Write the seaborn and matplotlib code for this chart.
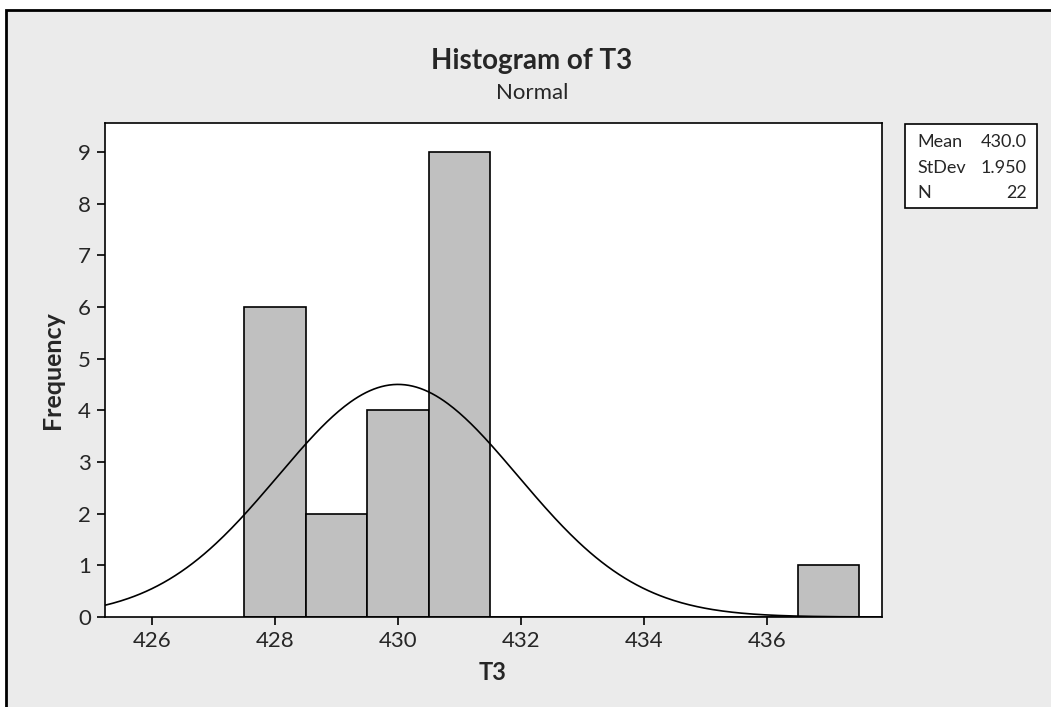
import numpy as np
import pandas as pd
import seaborn as sns
import matplotlib
matplotlib.use("Agg")
import matplotlib.pyplot as plt
from matplotlib.patches import Rectangle

# Data
bin_centers = [428, 429, 430, 431, 432, 433, 434, 435, 436, 437]
counts = [6, 2, 4, 9, 0, 0, 0, 0, 0, 1]
bin_edges = [427.5, 428.5, 429.5, 430.5, 431.5, 432.5, 433.5, 434.5, 435.5, 436.5, 437.5]
x_ticks = [426, 428, 430, 432, 434, 436]
y_ticks = [0, 1, 2, 3, 4, 5, 6, 7, 8, 9]
stat_mean = 430.0
stat_sd = 1.950
stat_n = 22

sns.set_theme(style="white")
plt.rcParams['font.family'] = ['Lato', 'DejaVu Sans']

W, H = 1051, 707
fig = plt.figure(figsize=(W / 100, H / 100), dpi=100)
fig.patch.set_facecolor("white")
# outer panel with border on top and left
fig.add_artist(Rectangle((6 / W, -0.1), 1.2, (H - 10) / H + 0.1, transform=fig.transFigure,
                         facecolor="#EBEBEB", edgecolor="black", linewidth=2, zorder=-10))

ax = fig.add_axes([105 / W, (H - 617) / H, (882 - 105) / W, (617 - 123) / H])
ax.set_facecolor("white")

df = pd.DataFrame({"T3": bin_centers, "count": counts})
sns.histplot(data=df, x="T3", weights="count", bins=bin_edges, ax=ax,
             color="#C0C0C0", edgecolor="black", linewidth=1.2, alpha=1.0)

binw = bin_edges[1] - bin_edges[0]
xs = np.linspace(425.236, 437.87, 400)
ys = stat_n * binw / (stat_sd * np.sqrt(2 * np.pi)) * np.exp(-0.5 * ((xs - stat_mean) / stat_sd) ** 2)
sns.lineplot(x=xs, y=ys, ax=ax, color="black", linewidth=1.2)

ax.set_xlim(425.236, 437.87)
ax.set_ylim(0, 9.56)
ax.set_xticks(x_ticks)
ax.set_yticks(y_ticks)
ax.tick_params(axis="both", which="both", direction="out", length=6, width=1.2,
               color="black", labelsize=16, pad=4, left=True, bottom=True)
for s in ax.spines.values():
    s.set_color("black")
    s.set_linewidth(1.2)
ax.set_xlabel("")
ax.set_ylabel("")

fig.text(52 / W, 1 - 370 / H, "Frequency", rotation=90, ha="center", va="center",
         fontsize=18, fontweight="bold")
fig.text(493 / W, 1 - 673 / H, "T3", ha="center", va="center", fontsize=17, fontweight="bold")
fig.text(532 / W, 1 - 61 / H, "Histogram of T3", ha="center", va="center",
         fontsize=20, fontweight="bold")
fig.text(532 / W, 1 - 93 / H, "Normal", ha="center", va="center", fontsize=16)

# stats box
fig.add_artist(Rectangle((905 / W, 1 - 208 / H), (1037 - 905) / W, (208 - 124) / H,
                         transform=fig.transFigure, facecolor="white", edgecolor="black",
                         linewidth=1.2))
rows = [("Mean", f"{stat_mean:.1f}", 142), ("StDev", f"{stat_sd:.3f}", 168), ("N", f"{stat_n}", 193)]
for lab, val, y in rows:
    fig.text(917 / W, 1 - y / H, lab, ha="left", va="center", fontsize=13)
    fig.text(1027 / W, 1 - y / H, val, ha="right", va="center", fontsize=13)

fig.savefig("out.png", dpi=100)
